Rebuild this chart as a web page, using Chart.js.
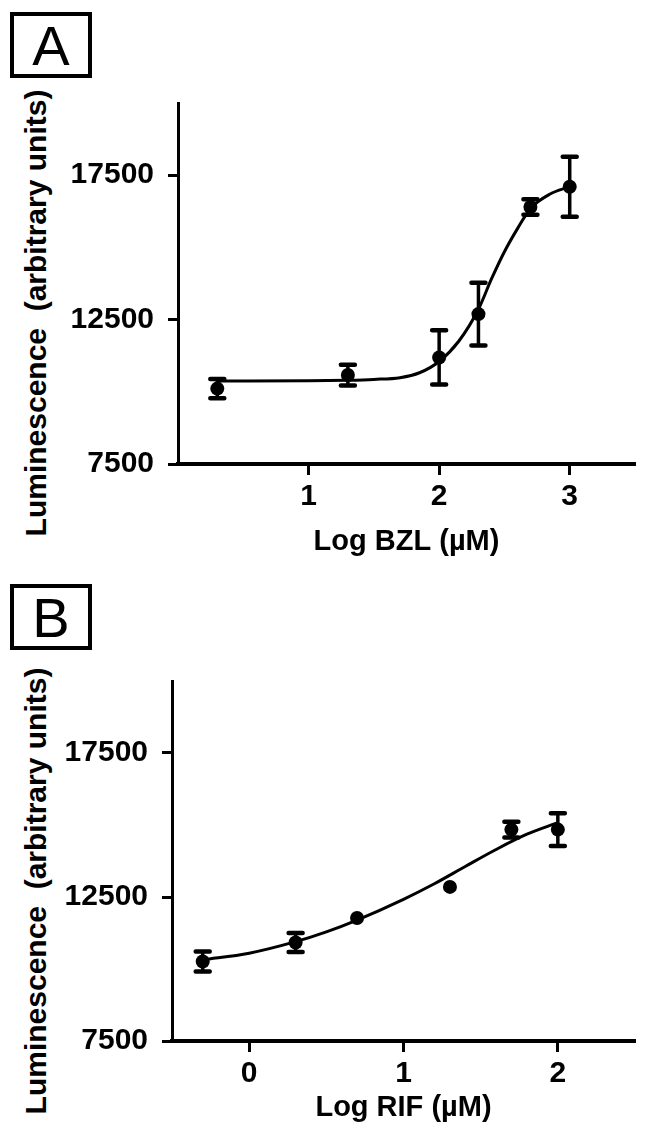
<!DOCTYPE html>
<html>
<head>
<meta charset="utf-8">
<script src="https://cdn.jsdelivr.net/npm/chart.js@4.4.1/dist/chart.umd.min.js"></script>
<style>
  html, body { margin: 0; padding: 0; background: #fff; }
  body { position: relative; width: 645px; height: 1129px; overflow: hidden; font-family: "Liberation Sans", Arial, sans-serif; color: #000; }
  .tag { position: absolute; left: 10px; width: 74px; height: 58px; border: 4.5px solid #000; font-size: 56px; line-height: 60px; text-align: center; }
  .plot { position: absolute; left: 0; width: 645px; }
  .ytitle { position: absolute; font-size: 30px; font-weight: bold; white-space: pre; transform: translate(-50%, -50%) rotate(-90deg); }
</style>
</head>
<body>
<div class="tag" style="top:12px">A</div>
<div class="tag" style="top:584px">B</div>
<div class="ytitle" id="ytA">Luminescence  (arbitrary units)</div>
<div class="ytitle" id="ytB">Luminescence  (arbitrary units)</div>
<div class="plot" style="top:71px;height:492px"><canvas id="chartA"></canvas></div>
<div class="plot" style="top:649px;height:480px"><canvas id="chartB"></canvas></div>
<script>
// Panel A: BZL
const bzlLogConc = [0.301, 1.301, 2.0, 2.301, 2.699, 3.0];
const bzlMean = [10110, 10580, 11190, 12690, 16400, 17100];
const bzlErr = [330, 360, 940, 1090, 270, 1040];
const bzlFitX = [0.301, 1.0, 1.3, 1.5, 1.7, 1.85, 2.0, 2.15, 2.3, 2.4, 2.5, 2.6, 2.7, 2.85, 3.0];
const bzlFitY = [10370, 10380, 10400, 10430, 10490, 10660, 11050, 11750, 12850, 13900, 14850, 15650, 16350, 16850, 17100];
const bzlXTicks = [1, 2, 3];

// Panel B: RIF
const rifLogConc = [-0.301, 0.301, 0.699, 1.301, 1.699, 2.0];
const rifMean = [10260, 10920, 11770, 12850, 14840, 14840];
const rifErr = [350, 330, 0, 0, 270, 570];
const rifFitX = [-0.301, 0.0, 0.301, 0.5, 0.699, 1.0, 1.2, 1.4, 1.6, 1.8, 2.0];
const rifFitY = [10320, 10550, 10950, 11290, 11700, 12420, 12960, 13560, 14150, 14680, 15080];
const rifXTicks = [0, 1, 2];

const yTicks = [7500, 12500, 17500];

const tickFont = { family: '"Liberation Sans", Arial, sans-serif', size: 30, weight: 'bold' };

// SEM bars with caps, drawn on top of the points
const errorBars = {
    id: 'errorBars',
    afterDatasetsDraw(chart, args, opts) {
        const ctx = chart.ctx, x = chart.scales.x, y = chart.scales.y;
        ctx.save();
        ctx.strokeStyle = '#000';
        opts.x.forEach((xv, i) => {
            if (!opts.err[i]) return;
            const px = x.getPixelForValue(xv);
            const top = y.getPixelForValue(opts.y[i] + opts.err[i]);
            const bot = y.getPixelForValue(opts.y[i] - opts.err[i]);
            ctx.lineWidth = 3.5;
            ctx.beginPath();
            ctx.moveTo(px, top);
            ctx.lineTo(px, bot);
            ctx.stroke();
            ctx.lineWidth = 4.5;
            ctx.lineCap = 'round';
            ctx.beginPath();
            ctx.moveTo(px - 7, top); ctx.lineTo(px + 7, top);
            ctx.moveTo(px - 7, bot); ctx.lineTo(px + 7, bot);
            ctx.stroke();
        });
        ctx.restore();
    }
};

function makeChart(id, cfg) {
    const pts = (xs, ys) => xs.map((v, i) => ({ x: v, y: ys[i] }));
    return new Chart(document.getElementById(id), {
        type: 'scatter',
        data: {
            datasets: [{
                data: pts(cfg.fitX, cfg.fitY),
                showLine: true,
                borderColor: '#000',
                borderWidth: 3,
                pointRadius: 0,
                cubicInterpolationMode: 'monotone'
            }, {
                data: pts(cfg.x, cfg.y),
                pointRadius: 7,
                pointBackgroundColor: '#000',
                pointBorderWidth: 0
            }]
        },
        options: {
            responsive: true,
            maintainAspectRatio: false,
            animation: false,
            events: [],
            layout: { padding: { left: 0, right: 10, top: 0, bottom: 0 } },
            plugins: {
                legend: { display: false },
                tooltip: { enabled: false },
                errorBars: { x: cfg.x, y: cfg.y, err: cfg.err }
            },
            scales: {
                x: {
                    type: 'linear',
                    min: cfg.xMin,
                    max: cfg.xMax,
                    afterBuildTicks: s => { s.ticks = cfg.xTicks.map(v => ({ value: v })); },
                    afterFit: s => { s.height = cfg.xH; },
                    ticks: { color: '#000', font: tickFont, padding: 4, maxRotation: 0, callback: v => String(v) },
                    grid: { drawOnChartArea: false, tickLength: 11, tickWidth: 3, tickColor: '#000' },
                    border: { color: '#000', width: 4 },
                    title: { display: true, text: cfg.xTitle, color: '#000', padding: { top: 0, bottom: 4 },
                             font: { family: '"Liberation Sans", Arial, sans-serif', size: 29, weight: 'bold' } }
                },
                y: {
                    type: 'linear',
                    min: 7500,
                    max: 20000,
                    afterBuildTicks: s => { s.ticks = yTicks.map(v => ({ value: v })); },
                    afterFit: s => { s.width = cfg.yW; },
                    ticks: { color: '#000', font: tickFont, padding: 14, callback: v => String(v) },
                    grid: { drawOnChartArea: false, tickLength: 10, tickWidth: 3, tickColor: '#000' },
                    border: { color: '#000', width: 3 }
                }
            }
        },
        plugins: [errorBars]
    });
}

makeChart('chartA', {
    x: bzlLogConc, y: bzlMean, err: bzlErr, fitX: bzlFitX, fitY: bzlFitY,
    xTicks: bzlXTicks, xMin: 0, xMax: 3.5, xTitle: 'Log BZL (µM)',
    yW: 178, xH: 99
});
makeChart('chartB', {
    x: rifLogConc, y: rifMean, err: rifErr, fitX: rifFitX, fitY: rifFitY,
    xTicks: rifXTicks, xMin: -0.5, xMax: 2.5, xTitle: 'Log RIF (µM)',
    yW: 172, xH: 88
});

function placeTitle(id, cx, cy) {
    const el = document.getElementById(id);
    el.style.left = cx + 'px';
    el.style.top = cy + 'px';
}
placeTitle('ytA', 36, 313);
placeTitle('ytB', 36, 891);
</script>
</body>
</html>
